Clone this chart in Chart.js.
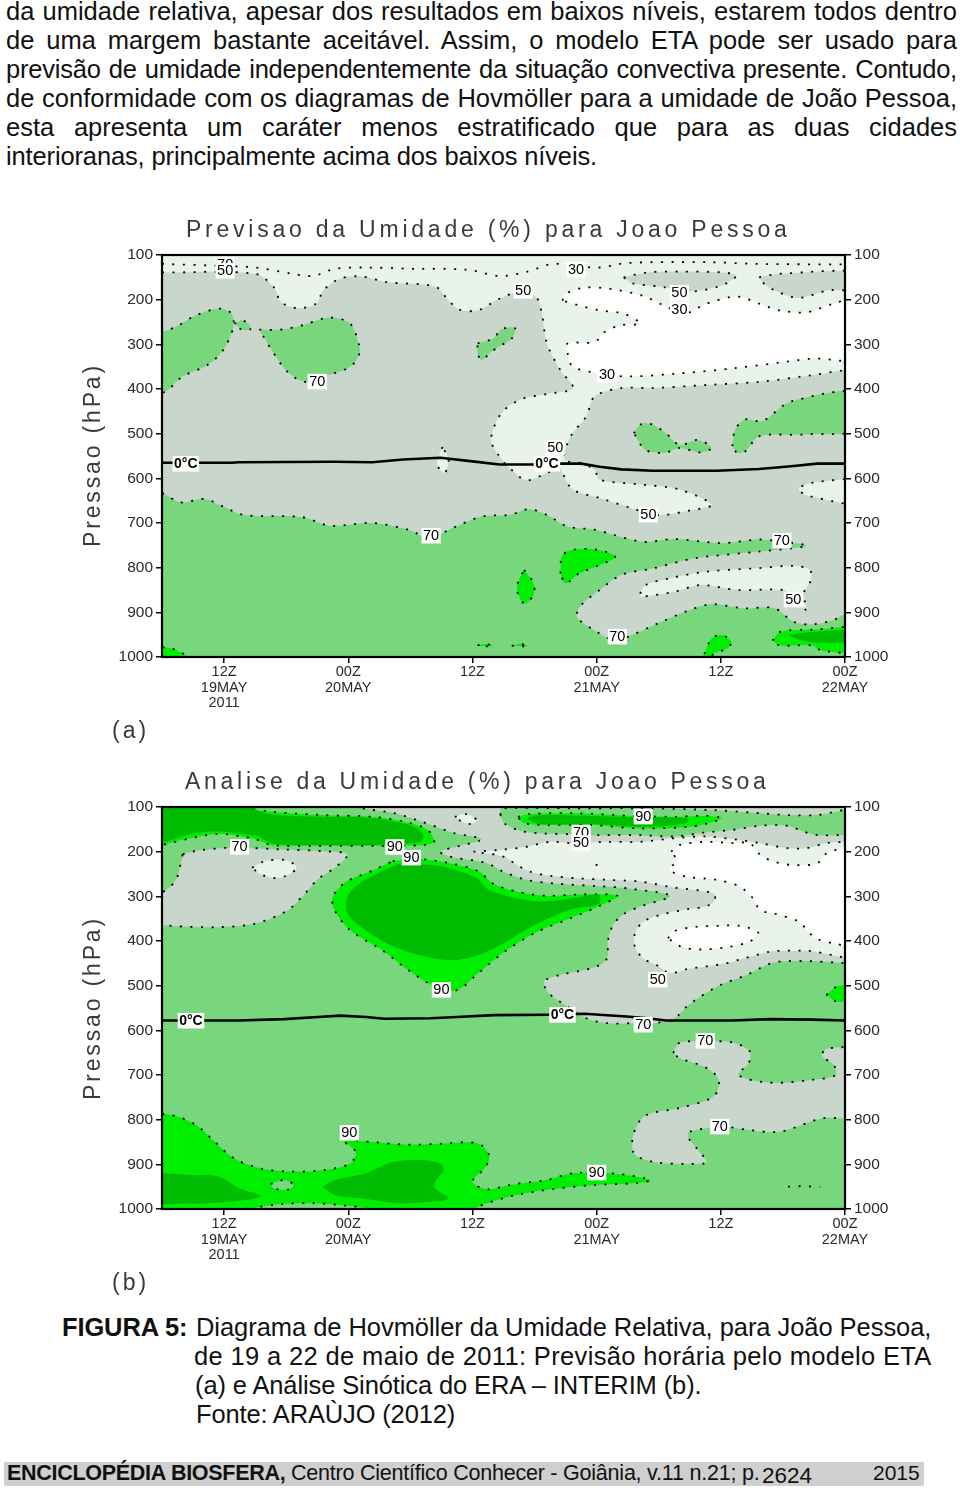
<!DOCTYPE html>
<html lang="pt"><head><meta charset="utf-8">
<script src="https://cdn.jsdelivr.net/npm/chart.js@4"></script>
<style>
html,body{margin:0;padding:0;background:#fff;width:960px;height:1488px;overflow:hidden}
body{position:relative;font-family:"Liberation Sans",Arial,sans-serif;color:#111}
.t{position:absolute;white-space:nowrap;font-size:25.5px;line-height:29px}
.j{left:6px;width:951px;white-space:normal;text-align:justify;text-align-last:justify}
.g{color:#3a3a3a;font-size:23px;line-height:26px}
canvas{position:absolute;left:0}
#band{position:absolute;left:4px;top:1462px;width:920px;height:24px;background:#cfcfcf}
</style></head><body>
<div class="t j" style="top:-3px">da umidade relativa, apesar dos resultados em baixos níveis, estarem todos dentro</div>
<div class="t j" style="top:26px">de uma margem bastante aceitável. Assim, o modelo ETA pode ser usado para</div>
<div class="t j" style="top:55px;letter-spacing:-0.22px">previsão de umidade independentemente da situação convectiva presente. Contudo,</div>
<div class="t j" style="top:84px">de conformidade com os diagramas de Hovmöller para a umidade de João Pessoa,</div>
<div class="t j" style="top:113px">esta apresenta um caráter menos estratificado que para as duas cidades</div>
<div class="t" data-w="591" style="left:6px;top:142px">interioranas, principalmente acima dos baixos níveis.</div>

<canvas id="chartA" width="960" height="530" style="top:210px"></canvas>
<canvas id="chartB" width="960" height="530" style="top:762px"></canvas>

<div class="t g" data-w="601" style="left:186px;top:216px">Previsao da Umidade (%) para Joao Pessoa</div>
<div class="t g" data-w="581" style="left:185px;top:768px">Analise da Umidade (%) para Joao Pessoa</div>
<div class="t g" data-w="181" style="left:0;top:442px;width:181px;transform:rotate(-90deg);transform-origin:center" id="ya">Pressao (hPa)</div>
<div class="t g" data-w="181" style="left:0;top:995px;width:181px;transform:rotate(-90deg);transform-origin:center" id="yb">Pressao (hPa)</div>
<div class="t g" data-w="34" style="left:112px;top:717px">(a)</div>
<div class="t g" data-w="34" style="left:112px;top:1269px">(b)</div>

<div class="t" data-w="126" style="left:62px;top:1313px;font-weight:bold">FIGURA 5:</div>
<div class="t" data-w="735" style="left:196px;top:1313px">Diagrama de Hovmöller da Umidade Relativa, para João Pessoa,</div>
<div class="t" data-w="737" style="left:194px;top:1342px">de 19 a 22 de maio de 2011: Previsão horária pelo modelo ETA</div>
<div class="t" data-w="507" style="left:195px;top:1371px">(a) e Análise Sinótica do ERA – INTERIM (b).</div>
<div class="t" data-w="259" style="left:196px;top:1400px">Fonte: ARAÙJO (2012)</div>

<div id="band"></div>
<div class="t" data-w="279" style="left:7px;top:1459px;font-size:21.5px;font-weight:bold">ENCICLOPÉDIA BIOSFERA,</div>
<div class="t" data-w="469" style="left:291px;top:1459px;font-size:21.5px">Centro Científico Conhecer - Goiânia, v.11 n.21; p.</div>
<div class="t" data-w="50" style="left:762px;top:1461px;font-size:22.5px">2624</div>
<div class="t" data-w="47" style="left:873px;top:1458px;font-size:21px">2015</div>

<script>
// Axes
const pressureTicks = [100,200,300,400,500,600,700,800,900,1000];
const hourTicks = [12,24,36,48,60,72];              // hours after 00Z 19 May 2011
const hourTickLabels = [['12Z','19MAY','2011'],['00Z','20MAY'],['12Z'],['00Z','21MAY'],['12Z'],['00Z','22MAY']];

// ---------- (a) contour regions as [hour, hPa] ----------
const aPale = [[5,139],[6,139],[15,142],[16.8,172],[17.5,205],[19.1,219],[20.9,209],[21.6,179],[23.2,153],[25.2,148],[27.8,161],[32.4,171],[33.7,202],[34.7,222],[36.5,224],[38.6,198],[40.6,183],[42.2,196],[42.7,231],[43.2,298],[44.5,358],[45.7,398],[43.2,411],[40.6,424],[38.8,454],[37.8,513],[38.6,551],[39.6,577],[41.2,604],[43.2,588],[44.5,577],[44.7,588],[45.7,625],[48.3,644],[51.4,667],[53.9,682],[57,672],[59.1,659],[56,625],[52.4,614],[48.3,603],[47.8,581],[46.5,566],[44.9,558],[45.5,506],[47,461],[47.8,417],[50.4,398],[53.4,398],[58.6,391],[63.7,384],[68.8,369],[72,358],[74,355],[74,90],[5,90]];
const a30Line = [[6,120],[11.4,124],[15,128],[18.6,142],[20.6,147],[22.7,131],[25.7,128],[30.4,131],[35.5,133],[38.6,147],[41.2,138],[43.7,120],[45.7,124],[48.3,128],[50.9,118],[58.6,116],[63.7,120],[72,121]];
const aWhite = [[44.7,202],[45,187],[46.8,173],[49.3,176],[52.4,191],[54.5,213],[56.5,231],[58.6,209],[61.6,193],[63.7,209],[65.7,224],[68.3,228],[70.9,209],[74,194],[74,328],[68.8,332],[66.3,339],[61.1,354],[56,365],[50.9,372],[48.3,365],[45.7,350],[45.2,320],[45.2,298],[47.8,295],[48.8,272],[50.4,257],[52.2,254],[50.6,231],[48.3,224],[46.3,213]];
const aGrey1 = [[50.6,150],[52.9,139],[56,137],[60.1,139],[61.5,146],[60.1,168],[57,182],[54.5,172],[51.4,163]];
const aGrey2 = [[63.7,150],[65.7,142],[74,139],[74,176],[70.4,179],[67.5,196],[65.2,179],[64,161]];
const aSliver = [[33.1,530],[32.6,569],[33.3,588],[33.7,558]];
const aPaleRight = [[74,598],[68.8,610],[67.5,624],[68.6,640],[74,656]];
const aPaleLow = [[52.2,858],[52.7,839],[55,824],[58.6,809],[63.7,801],[67,796],[68.6,805],[68.7,828],[68,858],[68.3,895],[67,865],[66,850],[61.6,850],[58,839],[55.5,854],[52.2,865]];
const aGreen1 = [[4,290],[7.3,261],[9.3,235],[11.6,220],[12.7,231],[12.9,261],[11.9,313],[10.4,346],[8,372],[6.3,406],[4,420]];
const aGreen2 = [[13,254],[13.7,246],[14.5,257],[14.5,267],[13.7,267]];
const aGreen3 = [[15.4,267],[17.5,267],[19.6,257],[22.2,240],[24.2,254],[25,298],[25.1,320],[24.2,350],[21.6,372],[19.8,384],[18.1,361],[16.8,320]];
const aGreen4 = [[36.5,298],[38,287],[38.8,267],[40.1,263],[39.8,287],[38.8,302],[37.8,317],[36.9,335],[36.5,320]];
const aGreen5 = [[51.6,499],[52.2,480],[53.2,478],[54.7,499],[56,525],[57.8,514],[59.1,532],[58,542],[56,532],[54.5,543],[52.7,536]];
const aGreen6 = [[61.1,528],[61.4,490],[62.4,468],[64,472],[66.8,428],[74,408],[74,488],[67.8,502],[63.7,506],[62.4,539],[61.6,543]];
const aGreenLow = [[4,628],[6,633],[7.8,654],[10.1,646],[11.9,663],[13.9,682],[19.6,687],[22.2,706],[26.3,700],[29.8,715],[31.9,734],[34,712],[37,685],[39.6,682],[41.4,669],[43.2,682],[45.2,708],[47.8,715],[52.4,742],[55.5,736],[60.1,745],[63.7,737],[66,742],[68.3,751],[63.7,764],[57.5,779],[53.4,802],[50.4,816],[48.3,850],[46.5,884],[46.1,910],[47.5,936],[49.8,963],[51.4,951],[53.9,925],[57,895],[59.1,882],[62.2,891],[65.2,891],[67,921],[68.8,927],[70.9,917],[72,903],[74,890],[74,1015],[4,1015]];
const aBright1 = [[44.5,813],[44.7,772],[46,759],[48.3,761],[49.8,776],[48.3,794],[46.3,813],[45,835]];
const aBright2 = [[41,805],[41.9,835],[41.9,861],[41,880],[40.3,850],[40.5,828]];
const aBright3 = [[65,963],[65.7,944],[68.8,939],[74,937],[74,986],[69.8,986],[68.8,974],[65.7,974]];
const aDark3 = [[66.5,951],[68.8,944],[74,941],[74,963],[69.8,968],[67.8,963]];
const aBright4 = [[58.4,993],[59.1,959],[60.1,951],[61,966],[60.6,981],[59.3,993],[58.8,1015],[58,1015]];
const aBright5 = [[4,979],[6.5,979],[7.6,987],[8.8,1005],[8.8,1015],[4,1015]];
const aBright6 = [[36.5,974],[37.2,971],[38,975],[37.2,976]];
const aBright7 = [[39.8,975],[40.6,971],[41.4,975],[40.6,976]];
const aFreezingH = [6,12.7,13.4,22.7,26.3,29.3,32.9,36,38.6,42.2,44.7,46.5,48.3,50.4,53.4,59.6,63.7,66.8,69.3,72];
const aFreezingP = [565,565,564,563,564,558,554,562,569,569,567,567,574,580,583,583,579,573,567,567];
const aLabels = [['70',12.1,122],['50',12.1,136],['30',46,134],['50',40.9,181],['50',56,185],['30',56,223],['70',21,384],['30',49,369],['50',44,532],['50',53,682],['70',32,729],['70',65.9,740],['50',67,872],['70',50,955],['0°C',8.3,568],['0°C',43.2,568]];

// ---------- (b) contour regions as [hour, hPa] ----------
const bGreyLeft = [[8,206],[9.6,197],[12.9,191],[17.5,195],[21.6,199],[23.9,206],[22.7,236],[21.1,261],[19.6,299],[18.1,332],[15,361],[11.4,369],[7.3,367],[6,364],[4,362],[4,295],[6,291],[7.3,265],[7.8,228]];
const bPaleLeft = [[14.7,236],[16,221],[18,219],[19,236],[18,254],[16.8,259],[15.5,250]];
const bGreyMain = [[22.4,90],[25.9,105],[28.5,114],[31.1,133],[33.3,151],[34.3,159],[36.9,172],[34.8,187],[32.9,200],[33.8,211],[37.4,226],[39,245],[41.2,263],[43.8,271],[48,277],[50.9,282],[55.1,299],[52.2,323],[50.6,340],[49.6,364],[49.1,398],[49,439],[48,457],[46.4,467],[44.45,476],[42.9,491],[43.4,517],[45.2,547],[47,573],[49,584],[51.5,584],[53.5,584],[55.4,575],[56.7,547],[58,525],[59.9,499],[62.5,476],[64.4,454],[65.7,446],[68.3,445],[71.8,449],[74,450],[74,85],[22.4,85]];
const bPaleMain = [[36.1,200],[38.7,196],[41.2,189],[43.5,178],[45.7,181],[49,178],[52.2,178],[55.4,170],[58.6,166],[61.8,174],[63.8,181],[66.4,192],[68.3,192],[70.2,181],[72,178],[74,176],[74,428],[68.3,422],[65.7,422],[64.7,424],[62.2,439],[60.5,450],[58.6,457],[56.7,463],[55.1,472],[53.8,454],[52.5,439],[51.7,413],[51.7,383],[52.5,357],[54.1,342],[56.7,329],[58.6,322],[59.4,308],[59.3,293],[55.4,280],[52.2,267],[49,263],[46.4,260],[43.5,254],[41.6,245],[40.3,230],[39,211]];
const bWhiteMain = [[55.2,200],[56,185],[58.6,178],[61.2,181],[62.8,181],[63.8,207],[65.1,222],[67,230],[69.3,226],[70.2,204],[71.2,196],[74,194],[74,412],[70.9,405],[69.2,394],[68.3,375],[67.6,357],[65.1,338],[63.8,331],[63.1,304],[61.8,278],[59.6,263],[56.7,256],[55.1,241],[55.7,219]];
const bWhiteHole = [[54.9,394],[55.4,379],[57.3,369],[59.9,366],[61.8,366],[63.6,381],[62.8,401],[60.6,414],[58,419],[56.2,413]];
const bPaleTop = [[34.3,122],[35.4,116],[36.4,129],[35.9,138],[35,133]];
const bPaleSpot = [[47.9,229],[48.5,232]];
const bGreenTop = [[38.7,118],[38.8,103],[45.7,103],[52.2,103],[59.3,107],[63.8,114],[66.4,118],[69.3,118],[71.8,107],[74,100],[74,165],[71.8,163],[69.3,163],[68,155],[66.4,142],[63.8,142],[61.2,151],[58.6,157],[55.4,166],[52.2,163],[48,163],[45.7,161],[42.5,159],[40.6,153],[39.1,137]];
const bBrightTop = [[40.4,122],[41.4,116],[45.7,114],[51.5,120],[55.4,122],[58.6,120],[60.1,125],[59,135],[57,144],[52.2,148],[47.4,140],[42.5,140],[40.9,135]];
const bDarkTop = [[41.2,125],[42.5,118],[47.4,120],[52.2,123],[56.7,125],[56.9,133],[54.8,142],[52.2,144],[47.4,138],[42.5,138]];
const bBrightBand = [[13,85],[14.2,101],[16.3,110],[21.4,118],[26.3,122],[29.8,135],[31.7,152],[32.3,178],[31.4,185],[26.3,187],[21.4,187],[16.6,185],[15,172],[13.4,165],[11.4,160],[9.2,168],[6.9,180],[6,185],[4,187],[4,85]];
const bDarkBand = [[13.5,85],[16,114],[21.4,122],[26.3,125],[29.8,140],[31.2,159],[31,178],[26.3,185],[21.4,185],[16.6,181],[15.3,166],[13.4,160],[11.4,155],[9.2,159],[6.9,174],[6,180],[4,181],[4,85]];
const bBrightCore = [[28.3,221],[30.9,217],[33.4,224],[36.5,243],[38.1,273],[40.6,291],[43.2,299],[46.3,296],[50,299],[48.3,321],[45.7,347],[42.2,380],[39.1,424],[36.5,473],[34.5,510],[32.4,502],[29.8,465],[27.3,421],[24.2,376],[22.7,332],[22.5,302],[23.7,269],[26.3,243]];
const bDarkCore = [[28.8,228],[32.9,232],[36.3,258],[37.5,284],[40.6,306],[43.2,311],[46.3,302],[48.2,296],[48.2,317],[45.7,328],[43.2,351],[41.1,376],[38.6,410],[36,436],[33.7,443],[30.9,432],[27.8,406],[25.7,376],[23.9,339],[23.9,302],[25,273],[27.3,243]];
const bBrightLow = [[4,789],[6.8,789],[9.3,812],[10.9,845],[12.9,886],[15.5,909],[18.1,916],[21.6,913],[24.2,898],[24.7,871],[23.4,845],[25.7,849],[29.8,856],[32.9,854],[36.5,853],[37.6,879],[37.3,905],[36,939],[37.5,956],[39.6,946],[43.2,935],[45.7,920],[49.8,921],[53.2,935],[51.9,942],[47.8,946],[43.2,957],[39.6,972],[36.5,995],[35,1015],[25.7,1015],[25.7,1000],[23.2,991],[20.6,987],[17.5,989],[14.7,1000],[14.7,1015],[4,1015]];
const bHole = [[16.5,944],[17.8,935],[18.7,946],[18.3,956],[16.8,954]];
const bDarkLowL = [[4,916],[8.8,924],[11.4,927],[13.4,953],[15.5,972],[12.4,984],[8.8,988],[4,980]];
const bDarkLowM = [[21.5,950],[22.7,935],[25.7,920],[27.8,898],[30.4,890],[32.9,898],[33.2,913],[32.4,939],[32.4,954],[33.7,976],[31.9,984],[28.8,987],[25.2,976],[22.7,969]];
const bGreyLow = [[55.4,651],[56,628],[58.6,625],[61.1,627],[62.8,647],[62.7,673],[61.7,700],[64.7,717],[68.8,711],[71.1,700],[70.9,677],[69.8,658],[70.1,643],[71.6,638],[74,636],[74,789],[69.8,797],[65.7,827],[62.7,823],[60.1,816],[57,827],[56.8,838],[57.8,868],[58.6,895],[57,899],[53.4,894],[51.6,875],[51.6,830],[52.7,791],[56,774],[59.3,748],[59.8,711],[58.6,684],[56,662]];
const bSpeck = [[66.5,950],[68,949],[69.6,951]];
const bBrightRight = [[70.2,521],[71.2,502],[71.8,499],[74,495],[74,540],[71.8,536],[71.2,536]];
const bFreezingH = [6,13.4,17.8,21.1,23.2,25.7,27.5,31.9,34.5,38.1,43.2,46.8,50.9,52.9,54.7,61.1,64.7,68.8,72];
const bFreezingP = [578,578,575,570,567,570,574,573,570,566,565,563,569,573,578,578,575,576,578];
const bLabels = [['70',13.5,190],['90',28.5,190],['90',30.1,214],['70',46.5,158],['50',46.5,181],['90',52.5,122],['90',33,510],['50',53.9,487],['70',52.5,588],['70',58.5,624],['70',59.9,816],['90',24.1,830],['90',48,919],['0°C',8.8,579],['0°C',44.7,566]];

// Fill colours of the humidity classes
const fills = {pale:'#e9f3ea', white:'#ffffff', grey:'#c9d6cc', green:'#78d67c', bright:'#00ee00', dark:'#00bc00'};

// Painting order: each [points, class, no-contour flag]
const aLayers = [[aPale,'pale'],[a30Line,null],[aWhite,'white'],[aGrey1,'grey'],[aGrey2,'grey'],[aSliver,'pale'],[aGreen1,'green'],[aGreen2,'green'],[aGreen3,'green'],[aGreen4,'green'],[aGreen5,'green'],[aGreen6,'green'],[aGreenLow,'green'],[aPaleRight,'pale'],[aPaleLow,'pale'],[aBright1,'bright'],[aBright2,'bright'],[aBright3,'bright'],[aDark3,'dark',1],[aBright4,'bright'],[aBright5,'bright'],[aBright6,'bright'],[aBright7,'bright']];
const bLayers = [[bGreyLeft,'grey'],[bPaleLeft,'pale'],[bGreyMain,'grey'],[bPaleMain,'pale'],[bPaleSpot,null],[bWhiteMain,'white'],[bWhiteHole,'white'],[bPaleTop,'pale'],[bGreenTop,'green'],[bBrightTop,'bright'],[bDarkTop,'dark',1],[bBrightBand,'bright'],[bDarkBand,'dark',1],[bBrightCore,'bright'],[bDarkCore,'dark',1],[bBrightLow,'bright'],[bHole,'green'],[bDarkLowL,'dark',1],[bDarkLowM,'dark',1],[bGreyLow,'grey'],[bSpeck,null],[bBrightRight,'bright']];

const frameAndLabels = {
  id:'frameAndLabels',
  beforeDatasetsDraw(chart){
    const {ctx,chartArea:a}=chart; ctx.save(); ctx.fillStyle=chart.options.plugins.frameAndLabels.base;
    ctx.fillRect(a.left,a.top,a.right-a.left,a.bottom-a.top); ctx.restore();
  },
  afterDatasetsDraw(chart){
    const {ctx,chartArea:a,scales:{x,y}}=chart; ctx.save();
    ctx.textAlign='center'; ctx.textBaseline='middle';
    for(const [txt,h,p] of chart.options.plugins.frameAndLabels.labels){
      const cx=x.getPixelForValue(h), cy=y.getPixelForValue(p), zero=txt.includes('C');
      ctx.font=zero?'bold 14px "Liberation Sans Narrow","Liberation Sans"':'14.5px "Liberation Sans"';
      const w=ctx.measureText(txt).width+3;
      ctx.fillStyle='#fff'; ctx.fillRect(cx-w/2,cy-8,w,15.5);
      ctx.fillStyle='#000'; ctx.fillText(txt,cx,cy);
    }
    ctx.strokeStyle='#000'; ctx.lineWidth=2.2;
    ctx.strokeRect(a.left,a.top,a.right-a.left,a.bottom-a.top);
    ctx.restore();
  }
};

function makeChart(id,layers,freezeH,freezeP,labels,base){
  const n=layers.length+1;
  const datasets=layers.map(([pts,cls,noLine],i)=>{
    const closed=cls?pts.concat([pts[0]]):pts;
    return {data:closed.map(([x,y])=>({x,y})),showLine:true,pointRadius:0,clip:0,tension:0.32,
      fill:cls?'shape':false,backgroundColor:cls?fills[cls]:'transparent',
      borderColor:noLine?'transparent':'#000',borderWidth:1.8,borderDash:[2,8.5],borderCapStyle:'butt',order:n-i};
  });
  datasets.push({data:freezeH.map((x,i)=>({x,y:freezeP[i]})),showLine:true,pointRadius:0,clip:0,tension:0,fill:false,borderColor:'#000',borderWidth:2.6,order:0});
  const yCommon={type:'linear',min:100,max:1000,reverse:true,
    afterBuildTicks(s){s.ticks=pressureTicks.map(v=>({value:v}));},
    border:{display:true,color:'#000',width:2},grid:{drawOnChartArea:false,drawTicks:true,color:'#000',tickLength:6,lineWidth:1.5}};
  const tickFont={family:'"Liberation Sans"',size:15.5};
  const plain=v=>String(v);
  new Chart(document.getElementById(id),{
    type:'scatter',
    data:{datasets},
    plugins:[frameAndLabels],
    options:{responsive:false,animation:false,devicePixelRatio:1,
      layout:{padding:{top:45,left:0,right:0,bottom:0}},
      plugins:{legend:{display:false},tooltip:{enabled:false},title:{display:false},frameAndLabels:{labels,base}},
      scales:{
        x:{type:'linear',min:6,max:72,
          afterBuildTicks(s){s.ticks=hourTicks.map(v=>({value:v}));},
          afterFit(s){s.height=83;},
          ticks:{autoSkip:false,maxRotation:0,padding:1,color:'#2a2a2a',font:{family:'"Liberation Sans"',size:14.5,lineHeight:'15.7px'},callback:v=>hourTickLabels[hourTicks.indexOf(v)]},
          border:{display:true,color:'#000',width:2},grid:{drawOnChartArea:false,drawTicks:true,color:'#000',tickLength:6,lineWidth:1.5}},
        y:{...yCommon,position:'left',afterFit(s){s.width=162;},ticks:{autoSkip:false,padding:3,color:'#2a2a2a',font:tickFont,callback:plain}},
        y2:{...yCommon,position:'right',display:true,afterFit(s){s.width=115;},ticks:{autoSkip:false,padding:3,color:'#2a2a2a',font:tickFont,callback:plain}}
      }
    }
  });
}
makeChart('chartA',aLayers,aFreezingH,aFreezingP,aLabels,fills.grey);
makeChart('chartB',bLayers,bFreezingH,bFreezingP,bLabels,fills.green);

// Fit each free-standing text line to its measured width in the page
document.querySelectorAll('[data-w]').forEach(el=>{
  const w=+el.dataset.w, fixed=el.id==='ya'||el.id==='yb';
  if(fixed) el.style.width='auto';
  const nat=el.offsetWidth, c=el.textContent.length;
  el.style.letterSpacing=((w-nat)/(c-1))+'px';
});
</script>
</body></html>
